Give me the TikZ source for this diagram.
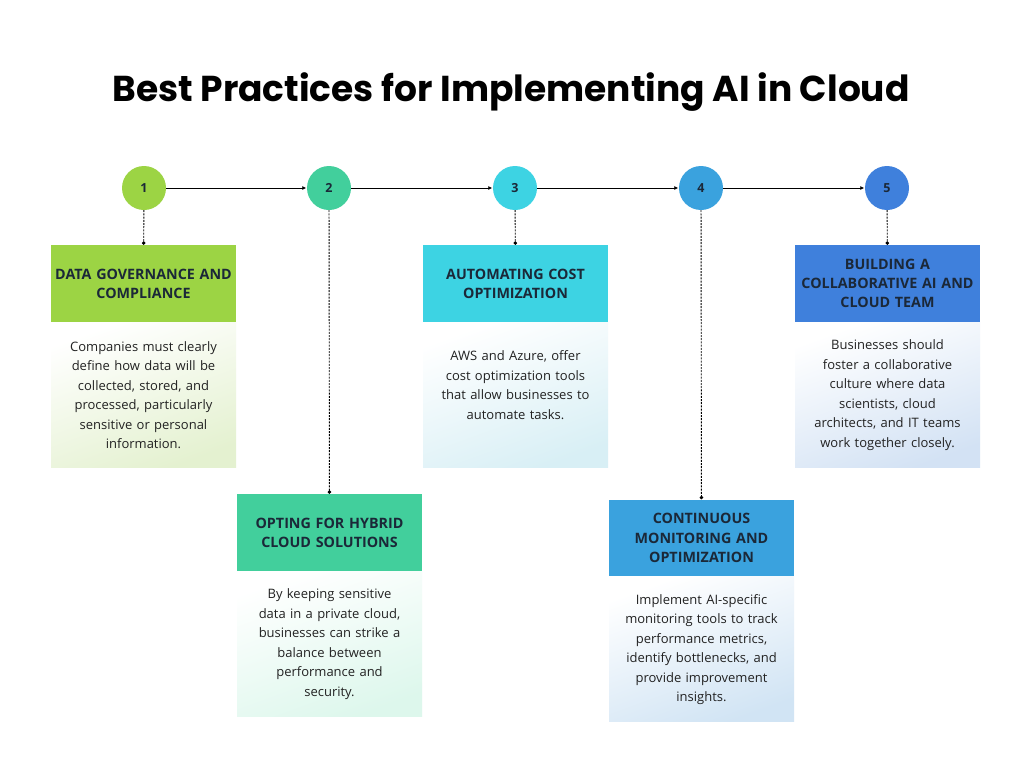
\documentclass[tikz,border=0pt]{standalone}
\usepackage{fontspec}
\setmainfont{Open Sans}
\newfontfamily\titlefont{Poppins}
\usetikzlibrary{positioning}
\usetikzlibrary{arrows.meta}
\usetikzlibrary{shapes}
\definecolor{c_one}{HTML}{9CD444}
\definecolor{c_two}{HTML}{42CF9C}
\definecolor{c_three}{HTML}{3DD3E3}
\definecolor{c_four}{HTML}{3AA2DE}
\definecolor{c_five}{HTML}{3F80DC}
\definecolor{t_one}{HTML}{E4F1D0}
\definecolor{t_two}{HTML}{DDF7EC}
\definecolor{t_three}{HTML}{D8EFF5}
\definecolor{t_four}{HTML}{D1E4F4}
\definecolor{t_five}{HTML}{D3E2F4}
\definecolor{headtext}{HTML}{1B2838}
\definecolor{bodytext}{HTML}{222222}
\tikzset{
        % Numbered circles
        node_num/.style={circle, fill=#1, minimum size=44pt, inner sep=0pt, text=headtext,
                font=\bfseries\fontsize{12.5}{12}\selectfont},
        % Box headers
        node_head/.style={rectangle, fill=#1, minimum width=185pt, minimum height=77pt, inner sep=0pt,
                text width=185pt, align=center, text=headtext, font=\bfseries\fontsize{14.3}{19.2}\selectfont},
        % Box bodies
        node_body/.style={rectangle, top color=white, bottom color=#1, shading angle=20, minimum width=185pt,
                minimum height=145pt, inner sep=0pt, text width=183pt, align=center, text=bodytext,
                font=\fontsize{13}{19.5}\selectfont},
        % Links between circles
        link_next/.style={-{Latex[length=4pt,width=4pt]}, line width=0.9pt, shorten >=0.5pt},
        % Dashed links down to the boxes
        link_down/.style={-{Circle[length=3.5pt]}, dashed, dash pattern=on 2pt off 1.2pt, line width=0.9pt}
}
\begin{document}
\begin{tikzpicture}[x=1pt, y=-1pt]
    \useasboundingbox[fill=white] (0,0) rectangle (1024,768);
    \node (title) at (511,92) {\titlefont\bfseries\fontsize{36}{40}\selectfont Best Practices for Implementing AI in Cloud};

    \node[node_num=c_one]   (n1) at (144,188) {1};
    \node[node_num=c_two]   (n2) at (329,188) {2};
    \node[node_num=c_three] (n3) at (515,188) {3};
    \node[node_num=c_four]  (n4) at (701,188) {4};
    \node[node_num=c_five]  (n5) at (887,188) {5};

    \node[node_head=c_one]   (h1) at (143.5,283.5) {DATA GOVERNANCE AND\\COMPLIANCE};
    \node[node_body=t_one, below=0pt of h1] (b1) {Companies must clearly\\define how data will be\\collected, stored, and\\processed, particularly\\sensitive or personal\\information.};

    \node[node_head=c_two]   (h2) at (329.5,532.5) {OPTING FOR HYBRID\\CLOUD SOLUTIONS};
    \node[node_body=t_two, below=0pt of h2] (b2) {By keeping sensitive\\data in a private cloud,\\businesses can strike a\\balance between\\performance and\\security.};

    \node[node_head=c_three] (h3) at (515.5,283.5) {AUTOMATING COST\\OPTIMIZATION};
    \node[node_body=t_three, below=0pt of h3] (b3) {AWS and Azure, offer\\cost optimization tools\\that allow businesses to\\automate tasks.\\\mbox{}};

    \node[node_head=c_four]  (h4) at (701.5,538) {CONTINUOUS\\MONITORING AND\\OPTIMIZATION};
    \node[node_body=t_four, below=0pt of h4] (b4) {Implement AI-specific\\monitoring tools to track\\performance metrics,\\identify bottlenecks, and\\provide improvement\\insights.};

    \node[node_head=c_five]  (h5) at (887.5,283.5) {BUILDING A\\COLLABORATIVE AI AND\\CLOUD TEAM};
    \node[node_body=t_five, below=0pt of h5] (b5) {Businesses should\\foster a collaborative\\culture where data\\scientists, cloud\\architects, and IT teams\\work together closely.};

    % circles in a row
    \foreach \a/\b in {n1/n2, n2/n3, n3/n4, n4/n5}
        \draw[link_next] (\a) -- (\b);
    % circles down to their boxes
    \foreach \i in {1,...,5}
        \draw[link_down] (n\i) -- (h\i);
\end{tikzpicture}
\end{document}
